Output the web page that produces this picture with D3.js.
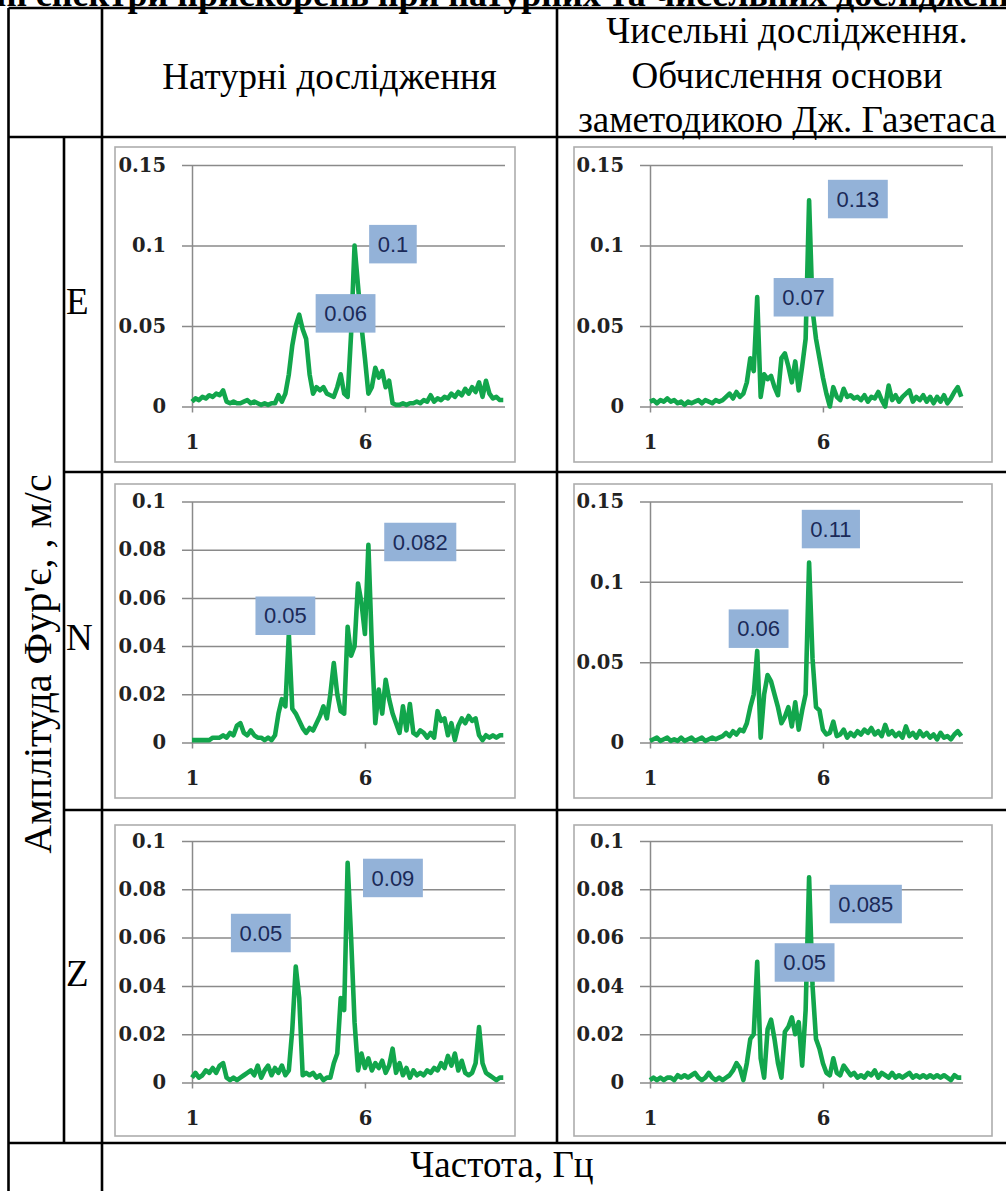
<!DOCTYPE html>
<html>
<head>
<meta charset="utf-8">
<script src="https://cdnjs.cloudflare.com/ajax/libs/d3/7.8.5/d3.min.js"></script>
<style>
  body { margin: 0; background: #fff; }
  svg { display: block; }
</style>
</head>
<body>
<div id="chart"></div>
<script>
// frequency grid, Hz (sampling step of the spectra)
const freqHz = d3.range(91).map(i => +(1 + i * 0.1).toFixed(1));

// Fourier amplitudes, m/s — E component
const ampE_field = [
  0.003,0.005,0.004,0.006,0.005,0.007,0.006,0.008,0.007,0.010,
  0.003,0.002,0.003,0.002,0.002,0.003,0.004,0.002,0.003,0.002,
  0.001,0.002,0.001,0.002,0.002,0.007,0.003,0.008,0.020,0.038,
  0.050,0.057,0.048,0.042,0.020,0.008,0.012,0.010,0.012,0.008,
  0.007,0.006,0.012,0.020,0.008,0.006,0.045,0.100,0.075,0.050,
  0.030,0.008,0.012,0.024,0.018,0.022,0.012,0.016,0.002,0.001,
  0.001,0.002,0.001,0.002,0.002,0.003,0.002,0.004,0.003,0.007,
  0.003,0.005,0.004,0.006,0.005,0.008,0.006,0.009,0.007,0.011,
  0.008,0.012,0.009,0.015,0.006,0.016,0.008,0.005,0.006,0.004,
  0.004
];
const ampE_model = [
  0.003,0.004,0.002,0.004,0.003,0.005,0.003,0.004,0.002,0.003,
  0.001,0.003,0.002,0.003,0.004,0.002,0.004,0.003,0.002,0.004,
  0.003,0.004,0.006,0.008,0.005,0.009,0.006,0.008,0.015,0.030,
  0.022,0.068,0.006,0.020,0.017,0.019,0.012,0.007,0.030,0.033,
  0.025,0.015,0.028,0.010,0.025,0.042,0.128,0.060,0.042,0.030,
  0.018,0.008,0.000,0.012,0.006,0.004,0.011,0.006,0.007,0.005,
  0.006,0.004,0.007,0.003,0.006,0.005,0.009,0.004,0.000,0.013,
  0.004,0.007,0.003,0.006,0.008,0.010,0.003,0.006,0.004,0.007,
  0.003,0.006,0.002,0.006,0.003,0.007,0.002,0.005,0.009,0.012,
  0.006
];
// N component
const ampN_field = [
  0.001,0.001,0.001,0.001,0.001,0.001,0.002,0.002,0.002,0.003,
  0.002,0.004,0.003,0.007,0.008,0.004,0.003,0.005,0.003,0.002,
  0.002,0.001,0.002,0.001,0.003,0.012,0.018,0.015,0.045,0.014,
  0.012,0.009,0.006,0.004,0.006,0.005,0.008,0.011,0.015,0.010,
  0.020,0.033,0.020,0.013,0.012,0.048,0.036,0.040,0.066,0.058,
  0.045,0.082,0.040,0.008,0.022,0.012,0.026,0.018,0.012,0.008,
  0.004,0.015,0.005,0.016,0.004,0.003,0.005,0.004,0.002,0.004,
  0.002,0.013,0.009,0.010,0.003,0.008,0.001,0.007,0.010,0.008,
  0.011,0.009,0.010,0.003,0.001,0.003,0.002,0.003,0.002,0.003,
  0.003
];
const ampN_model = [
  0.001,0.002,0.003,0.001,0.002,0.003,0.001,0.002,0.001,0.003,
  0.001,0.002,0.003,0.001,0.002,0.003,0.001,0.002,0.003,0.002,
  0.003,0.004,0.006,0.004,0.007,0.005,0.008,0.007,0.012,0.022,
  0.030,0.057,0.003,0.030,0.042,0.038,0.030,0.022,0.012,0.016,
  0.022,0.010,0.025,0.008,0.020,0.030,0.112,0.052,0.022,0.020,
  0.008,0.005,0.006,0.013,0.004,0.005,0.008,0.003,0.006,0.004,
  0.007,0.005,0.008,0.006,0.009,0.005,0.007,0.004,0.011,0.005,
  0.007,0.004,0.006,0.003,0.010,0.004,0.006,0.003,0.007,0.004,
  0.006,0.003,0.005,0.002,0.006,0.003,0.004,0.002,0.005,0.007,
  0.004
];
// Z component
const ampZ_field = [
  0.002,0.004,0.002,0.003,0.005,0.004,0.006,0.004,0.007,0.008,
  0.002,0.001,0.002,0.001,0.002,0.003,0.004,0.005,0.003,0.007,
  0.002,0.005,0.007,0.003,0.006,0.004,0.007,0.003,0.005,0.022,
  0.048,0.035,0.003,0.004,0.003,0.004,0.002,0.003,0.001,0.002,
  0.002,0.008,0.012,0.035,0.030,0.091,0.060,0.025,0.005,0.012,
  0.006,0.010,0.005,0.008,0.006,0.009,0.004,0.007,0.014,0.004,
  0.008,0.003,0.006,0.002,0.005,0.003,0.004,0.003,0.005,0.004,
  0.006,0.005,0.008,0.006,0.011,0.007,0.012,0.005,0.009,0.004,
  0.003,0.004,0.008,0.023,0.008,0.004,0.003,0.002,0.001,0.002,
  0.002
];
const ampZ_model = [
  0.001,0.002,0.001,0.002,0.001,0.002,0.002,0.001,0.003,0.002,
  0.003,0.002,0.003,0.004,0.002,0.001,0.002,0.004,0.002,0.001,
  0.002,0.001,0.002,0.003,0.005,0.008,0.006,0.001,0.008,0.018,
  0.020,0.050,0.010,0.002,0.022,0.026,0.018,0.008,0.002,0.021,
  0.023,0.027,0.020,0.025,0.007,0.030,0.085,0.040,0.018,0.014,
  0.008,0.004,0.003,0.010,0.004,0.003,0.007,0.005,0.003,0.004,
  0.002,0.003,0.002,0.004,0.003,0.005,0.002,0.004,0.003,0.002,
  0.004,0.002,0.003,0.002,0.003,0.004,0.002,0.003,0.002,0.003,
  0.002,0.003,0.002,0.003,0.002,0.003,0.002,0.001,0.003,0.002,
  0.002
];

// peak callouts: text and where the box sits (Hz, m/s)
const peaksE_field = [{text: "0.1", f: 6.81, a: 0.101}, {text: "0.06", f: 5.44, a: 0.058}];
const peaksE_model = [{text: "0.13", f: 7.01, a: 0.129}, {text: "0.07", f: 5.44, a: 0.068}];
const peaksN_field = [{text: "0.082", f: 7.6, a: 0.0833}, {text: "0.05", f: 3.70, a: 0.0527}];
const peaksN_model = [{text: "0.11", f: 6.23, a: 0.133}, {text: "0.06", f: 4.14, a: 0.071}];
const peaksZ_field = [{text: "0.09", f: 6.81, a: 0.0848}, {text: "0.05", f: 2.99, a: 0.062}];
const peaksZ_model = [{text: "0.085", f: 7.24, a: 0.074}, {text: "0.05", f: 5.47, a: 0.0498}];

// tick values
const yTicks15 = [0, 0.05, 0.1, 0.15];
const yTicks10 = [0, 0.02, 0.04, 0.06, 0.08, 0.1];
const xTicks = [1, 6];

// texts
const components = ["E", "N", "Z"];
const headField = "Натурні дослідження";
const headModel = ["Чисельні дослідження.", "Обчислення основи", "заметодикою Дж. Газетаса"];
const yTitle = "Амплітуда Фур'є, , м/с";
const xTitle = "Частота, Гц";
const topTitle = "Амплітудні спектри прискорень при натурних та чисельних дослідженнях будинку";

const panels = [
  {row: 0, col: 0, amp: ampE_field, yMax: 0.15, ticks: yTicks15, peaks: peaksE_field},
  {row: 0, col: 1, amp: ampE_model, yMax: 0.15, ticks: yTicks15, peaks: peaksE_model},
  {row: 1, col: 0, amp: ampN_field, yMax: 0.1, ticks: yTicks10, peaks: peaksN_field},
  {row: 1, col: 1, amp: ampN_model, yMax: 0.15, ticks: yTicks15, peaks: peaksN_model},
  {row: 2, col: 0, amp: ampZ_field, yMax: 0.1, ticks: yTicks10, peaks: peaksZ_field},
  {row: 2, col: 1, amp: ampZ_model, yMax: 0.1, ticks: yTicks10, peaks: peaksZ_model}
];

const width = 1006, height = 1191;
const svg = d3.select("#chart").append("svg")
    .attr("width", width)
    .attr("height", height);

// table grid
const T = {left: 8.5, c1: 64, c2: 102, mid: 557, right: 1016,
           top: 8, head: 137, r1: 472, r2: 810, r3: 1143, bottom: 1200};
const rowLines = [T.head, T.r1, T.r2, T.r3];

const serif = "'Liberation Serif', 'Times New Roman', serif";

// caption of the page above the table (only its lower part is in the frame)
svg.append("text")
    .attr("x", 520).attr("y", 6)
    .attr("text-anchor", "middle")
    .style("font-family", serif).style("font-size", "36px").style("font-weight", "bold")
    .text(topTitle);

const grid = svg.append("g").attr("stroke", "#000").attr("stroke-width", 2.6);
grid.append("line").attr("x1", T.left).attr("x2", T.right).attr("y1", T.top).attr("y2", T.top);
grid.append("line").attr("x1", T.left).attr("x2", T.right).attr("y1", T.head).attr("y2", T.head);
grid.append("line").attr("x1", T.c1).attr("x2", T.right).attr("y1", T.r1).attr("y2", T.r1);
grid.append("line").attr("x1", T.c1).attr("x2", T.right).attr("y1", T.r2).attr("y2", T.r2);
grid.append("line").attr("x1", T.left).attr("x2", T.right).attr("y1", T.r3).attr("y2", T.r3);
grid.append("line").attr("x1", T.left).attr("x2", T.left).attr("y1", T.top).attr("y2", T.bottom);
grid.append("line").attr("x1", T.c1).attr("x2", T.c1).attr("y1", T.head).attr("y2", T.r3);
grid.append("line").attr("x1", T.c2).attr("x2", T.c2).attr("y1", T.top).attr("y2", T.bottom);
grid.append("line").attr("x1", T.mid).attr("x2", T.mid).attr("y1", T.top).attr("y2", T.r3);

// header
svg.append("text")
    .attr("x", (T.c2 + T.mid) / 2).attr("y", 89)
    .attr("text-anchor", "middle")
    .style("font-family", serif).style("font-size", "37px")
    .text(headField);

svg.append("g").selectAll("text")
    .data(headModel)
    .join("text")
    .attr("x", 787)
    .attr("y", (d, i) => 43 + i * 44.5)
    .attr("text-anchor", "middle")
    .style("font-family", serif).style("font-size", "37px")
    .text(d => d);

// side titles
svg.append("text")
    .attr("transform", "translate(51,664) rotate(-90)")
    .attr("text-anchor", "middle")
    .style("font-family", serif).style("font-size", "40px")
    .text(yTitle);

svg.append("g").selectAll("text")
    .data(components)
    .join("text")
    .attr("x", 66)
    .attr("y", (d, i) => (rowLines[i] + rowLines[i + 1]) / 2 + 9)
    .style("font-family", serif).style("font-size", "37px")
    .text(d => d);

svg.append("text")
    .attr("x", 502).attr("y", 1177)
    .attr("text-anchor", "middle")
    .style("font-family", serif).style("font-size", "37px")
    .text(xTitle);

// chart panels
const boxX = [[115, 515], [574, 992]];
const axisX = [192, 650];
const boxY = [[147, 462], [484, 798], [825, 1136]];
const plotY = [[165, 406.5], [501.5, 742.5], [841, 1082.5]];
const plotW = 313;
const tickFont = "'DejaVu Serif', serif";

panels.forEach(p => {
  const g = svg.append("g");
  const [bx0, bx1] = boxX[p.col];
  const [by0, by1] = boxY[p.row];
  const ax = axisX[p.col];
  const [pTop, pBot] = plotY[p.row];

  g.append("rect")
      .attr("x", bx0).attr("y", by0)
      .attr("width", bx1 - bx0).attr("height", by1 - by0)
      .attr("fill", "#fff")
      .attr("stroke", "#adadad").attr("stroke-width", 1.6);

  const x = d3.scaleLinear().domain([1, 10.05]).range([ax, ax + plotW]);
  const y = d3.scaleLinear().domain([0, p.yMax]).range([pBot, pTop]);

  // y axis with gridlines
  const yAxis = g.append("g")
      .attr("transform", `translate(${ax},0)`)
      .call(d3.axisLeft(y).tickValues(p.ticks).tickSizeInner(-plotW).tickSizeOuter(0)
            .tickPadding(26).tickFormat(d => d === 0 ? "0" : String(+d.toFixed(3))));
  yAxis.select(".domain").attr("stroke", "#8a8a8a").attr("stroke-width", 1.5);
  yAxis.selectAll(".tick line").attr("x1", -10).attr("stroke", "#8a8a8a").attr("stroke-width", 1.5);
  yAxis.selectAll(".tick text")
      .style("font-family", tickFont).style("font-size", "19.5px").style("font-weight", "bold")
      .attr("fill", "#222");

  // x axis
  const xAxis = g.append("g")
      .attr("transform", `translate(0,${pBot})`)
      .call(d3.axisBottom(x).tickValues(xTicks).tickSize(6).tickPadding(23).tickFormat(d3.format("d")));
  xAxis.select(".domain").remove();
  xAxis.selectAll(".tick line").attr("stroke", "#8a8a8a").attr("stroke-width", 1.5);
  xAxis.selectAll(".tick text")
      .style("font-family", tickFont).style("font-size", "19.5px").style("font-weight", "bold")
      .attr("fill", "#222");

  // spectrum
  const line = d3.line()
      .x((d, i) => x(freqHz[i]))
      .y(d => y(d));
  g.append("path")
      .datum(p.amp)
      .attr("d", line)
      .attr("fill", "none")
      .attr("stroke", "#12a64c")
      .attr("stroke-width", 4.6)
      .attr("stroke-linejoin", "round");

  // peak callouts
  const lab = g.selectAll(".peak")
      .data(p.peaks)
      .join("g")
      .attr("class", "peak")
      .attr("transform", d => `translate(${x(d.f)},${y(d.a)})`);
  lab.append("text")
      .attr("text-anchor", "middle")
      .attr("dy", "0.36em")
      .style("font-family", "'Liberation Sans', Arial, sans-serif")
      .style("font-size", "22px")
      .attr("fill", "#1b2a58")
      .text(d => d.text);
  lab.each(function() {
    const t = d3.select(this).select("text");
    const bb = t.node().getBBox();
    d3.select(this).insert("rect", "text")
        .attr("x", bb.x - 8.5).attr("y", -19)
        .attr("width", bb.width + 17).attr("height", 38.5)
        .attr("fill", "#93b2d8");
  });
});
</script>
</body>
</html>
